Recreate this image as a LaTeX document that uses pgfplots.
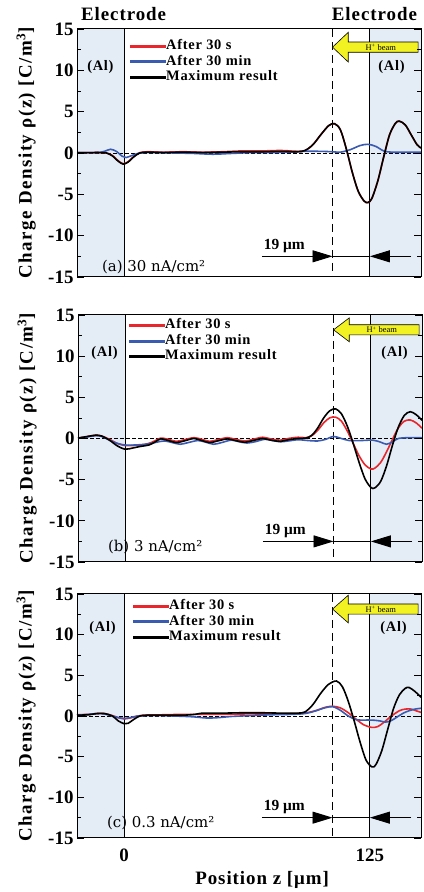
\documentclass[border=0pt]{standalone}
\usepackage{fontspec}
\setmainfont{Liberation Serif}
\newfontfamily\lsf[LetterSpace=5,BoldFont={Liberation Serif Bold}]{Liberation Serif}
\newfontfamily\lsfy[LetterSpace=8,BoldFont={Liberation Serif Bold}]{Liberation Serif}
\newfontfamily\dvs{DejaVu Serif}
\usepackage{pgfplots}
\pgfplotsset{compat=1.18}
\usetikzlibrary{arrows.meta}
\definecolor{shadecol}{HTML}{E4ECF6}
\definecolor{cred}{HTML}{E8262B}
\definecolor{cblue}{HTML}{3A5BB0}
\definecolor{beamyellow}{HTML}{F2F222}
\newcommand{\ticks}{\fontsize{19}{21}\selectfont\bfseries}
\newcommand{\lab}{\fontsize{19}{21}\selectfont\lsf\bfseries}
\newcommand{\ylab}{\fontsize{19}{21}\selectfont\lsfy\bfseries}
\newcommand{\leg}{\fontsize{14.5}{15}\selectfont\lsf\bfseries}
\newcommand{\sml}{\fontsize{15.5}{17}\selectfont\bfseries}
\newcommand{\plab}{\fontsize{15}{17}\selectfont\dvs}
\pgfplotsset{legend image code/.code={\fill[#1] (0bp,-1bp) rectangle (35bp,1bp);}}
\pgfplotsset{
 panel/.style={
  scale only axis, width=344bp,
  xmin=-24, xmax=151, ymin=-15, ymax=15,
  clip=false, axis on top,
  axis line style={line width=1bp},
  ytick={-15,-10,-5,0,5,10,15},
  yticklabels={-15,-10,-5,0,5,10,15},
  minor y tick num=1,
  tick align=inside,
  major tick length=7bp, minor tick length=4bp,
  every tick/.style={black, line width=0.8bp},
  y tick label style={font=\ticks},
  xtick=\empty,
  ylabel={Charge Density ρ(z) [C/m\textsuperscript{3}]},
  every axis y label/.style={at={(axis description cs:-0.148,0.5)}, rotate=90, anchor=center, font=\ylab},
  legend cell align=left,
  legend style={draw=none, fill=none, inner sep=0pt, font=\leg,
    nodes={inner sep=0.5bp, text height=10bp, text depth=3bp},
    row sep=1.5bp},
 },
 rl/.style={cred, line width=1.6bp, smooth},
 bl/.style={cblue, line width=1.6bp, smooth},
 kl/.style={black, line width=1.6bp, smooth},
}
\newcommand{\decor}[2]{%
  \fill[shadecol] (axis cs:-24,-15) rectangle (axis cs:0,15);
  \fill[shadecol] (axis cs:125,-15) rectangle (axis cs:151,15);
  \draw[line width=1bp] (axis cs:0,-15) -- (axis cs:0,15);
  \draw[line width=1bp] (axis cs:125,-15) -- (axis cs:125,15);
  \draw[line width=1bp, dash pattern=on 8bp off 5bp] (axis cs:106,15) -- (axis cs:106,-15);
  \draw[line width=0.9bp, dash pattern=on 3.5bp off 2.5bp] (axis cs:-24,0) -- (axis cs:151,0);
  \draw[line width=0.9bp, -{Triangle[length=20bp,width=12bp]}] (axis cs:70,-12.5) -- (axis cs:106,-12.5);
  \draw[line width=0.9bp] (axis cs:106,-12.5) -- (axis cs:125,-12.5);
  \draw[line width=0.9bp, -{Triangle[length=20bp,width=12bp]}] (axis cs:146,-12.5) -- (axis cs:125,-12.5);
  \node[font=\sml] at (axis cs:81.5,-11.2) {19 μm};
  \filldraw[fill=beamyellow, draw=black, line width=0.6bp]
    (axis cs:106,#1) -- (axis cs:114,#1+#2) -- (axis cs:114,#1+0.62) -- (axis cs:149.5,#1+0.62)
    -- (axis cs:149.5,#1-0.62) -- (axis cs:114,#1-0.62) -- (axis cs:114,#1-#2) -- cycle;
  \node[font=\fontsize{8.5}{9}\selectfont] at (axis cs:130.5,#1) {H\textsuperscript{+} beam};
  \addlegendimage{cred}\addlegendentry{After 30 s}
  \addlegendimage{cblue}\addlegendentry{After 30 min}
  \addlegendimage{black}\addlegendentry{Maximum result}
}
\begin{document}
\begin{tikzpicture}[x=1bp,y=1bp]
\path[use as bounding box] (0,0) rectangle (423,892);
% ---------------- panel (a)
\begin{axis}[panel, at={(77bp,615bp)}, anchor=south west, height=248bp,
  legend style={at={(axis cs:3,13.8)}, anchor=north west}]
\decor{12.8}{1.8}
\node[font=\lab] at (axis cs:-0.3,16.8) {Electrode};
\node[font=\lab] at (axis cs:127.3,16.8) {Electrode};
\node[font=\leg] at (axis cs:-12.1,10.4) {(Al)};
\node[font=\leg] at (axis cs:136,10.4) {(Al)};
\node[font=\plab, anchor=west] at (axis cs:-13,-13.85) {(a) 30 nA/cm²};
\addplot[rl, forget plot] coordinates {(-24,0.05) (-18,0.05) (-12,0.05) (-9,0) (-6,-0.3) (-3,-0.95) (-0.5,-1.3) (2,-1.05) (5,-0.4) (8,0.05) (12,0.15) (20,0.1) (30,0.15) (40,0.1) (50,0.15) (60,0.25) (70,0.25) (80,0.3) (88,0.2) (92,0.3) (96,1.0) (100,2.2) (104,3.3) (107,3.55) (110,2.8) (113,0.5) (116,-2.3) (119,-4.6) (122,-5.8) (124,-6.0) (126,-5.5) (129,-3.4) (132,-0.5) (135,2.2) (138,3.6) (140,3.85) (143,3.4) (146,2.2) (149,1.0) (151,0.6)};
\addplot[bl, forget plot] coordinates {(-24,0.05) (-14,0.05) (-10,0.2) (-7,0.45) (-4,0.2) (-1,-0.4) (1,-0.55) (4,-0.3) (8,0) (15,0.05) (25,0) (35,-0.05) (45,-0.15) (55,-0.05) (65,0.05) (75,0.05) (85,0.1) (92,0.2) (100,0.2) (106,0.15) (110,0.1) (115,0.4) (120,0.9) (124,1.05) (128,0.8) (132,0.25) (136,0.1) (145,0.1) (151,0.1)};
\addplot[kl, forget plot] coordinates {(-24,0.05) (-18,0.05) (-12,0.05) (-9,0) (-6,-0.35) (-3,-1.0) (-0.5,-1.35) (2,-1.1) (5,-0.45) (8,0) (12,0.1) (20,0.05) (30,0.1) (40,0.05) (50,0.1) (60,0.15) (70,0.15) (80,0.2) (88,0.15) (92,0.3) (96,1.0) (100,2.2) (104,3.3) (107,3.55) (110,2.8) (113,0.5) (116,-2.3) (119,-4.6) (122,-5.8) (124,-6.0) (126,-5.5) (129,-3.4) (132,-0.5) (135,2.2) (138,3.6) (140,3.85) (143,3.4) (146,2.2) (149,1.0) (151,0.6)};
\end{axis}
% ---------------- panel (b)
\begin{axis}[panel, at={(78bp,330bp)}, anchor=south west, height=247bp,
  legend style={at={(axis cs:2,14.6)}, anchor=north west}]
\decor{13.2}{1.45}
\node[font=\leg] at (axis cs:-10.5,10.4) {(Al)};
\node[font=\leg] at (axis cs:137,10.4) {(Al)};
\node[font=\plab, anchor=west] at (axis cs:-10.5,-13.2) {(b) 3 nA/cm²};
\addplot[rl, forget plot] coordinates {(-24,0.05) (-19,0.25) (-15,0.4) (-12,0.3) (-8,-0.1) (-4,-0.6) (0,-0.85) (4,-0.85) (8,-0.8) (12,-0.6) (15,-0.3) (18,0.05) (22,-0.1) (26,-0.35) (30,-0.15) (35,0.1) (39,-0.1) (43,-0.35) (47,-0.15) (52,0.1) (56,-0.1) (61,-0.3) (65,-0.1) (70,0.15) (74,-0.05) (79,-0.2) (83,0) (88,0.15) (92,0.1) (95,0.35) (98,1.0) (101,1.9) (104,2.5) (107,2.6) (110,2.1) (113,0.9) (116,-0.6) (119,-2.1) (122,-3.2) (125,-3.7) (127,-3.6) (130,-2.9) (133,-1.6) (136,-0.1) (139,1.3) (142,2.1) (145,2.25) (148,1.9) (151,1.25)};
\addplot[bl, forget plot] coordinates {(-24,0.05) (-19,0.2) (-15,0.35) (-12,0.25) (-8,-0.2) (-4,-0.6) (0,-0.8) (4,-0.8) (8,-0.75) (12,-0.65) (16,-0.45) (20,-0.3) (24,-0.5) (28,-0.7) (32,-0.5) (37,-0.25) (41,-0.45) (45,-0.7) (49,-0.5) (54,-0.2) (58,-0.4) (62,-0.55) (66,-0.4) (71,-0.1) (75,-0.25) (79,-0.4) (83,-0.3) (88,-0.15) (93,-0.25) (98,-0.3) (102,-0.1) (106,0.25) (110,0.0) (114,-0.25) (120,-0.25) (126,-0.2) (130,-0.45) (133,-0.7) (136,-0.4) (139,0) (144,0.1) (151,0.1)};
\addplot[kl, forget plot] coordinates {(-24,0.05) (-19,0.25) (-15,0.4) (-12,0.3) (-8,-0.2) (-4,-0.9) (0,-1.3) (4,-1.15) (8,-0.95) (12,-0.8) (15,-0.45) (18,-0.05) (22,-0.25) (26,-0.5) (30,-0.3) (35,0) (39,-0.25) (43,-0.5) (47,-0.3) (52,-0.05) (56,-0.25) (61,-0.45) (65,-0.25) (70,0) (74,-0.2) (79,-0.35) (83,-0.15) (88,0) (92,0.05) (95,0.4) (98,1.3) (101,2.5) (104,3.35) (107,3.6) (110,3.0) (113,1.5) (116,-0.6) (119,-2.9) (122,-4.9) (125,-5.95) (127,-6.0) (130,-5.2) (133,-3.3) (136,-0.8) (139,1.4) (142,2.8) (145,3.25) (148,2.9) (151,2.2)};
\end{axis}
% ---------------- panel (c)
\begin{axis}[panel, at={(77bp,54bp)}, anchor=south west, height=244bp,
  legend style={at={(axis cs:4.5,14.4)}, anchor=north west},
  xtick={0,125}, xticklabels={0,125}, xtick style={draw=none},
  x tick label style={font=\ticks, yshift=-7bp},
  xlabel={Position z [μm]},
  every axis x label/.style={at={(axis description cs:0.538,-0.172)}, anchor=center, font=\lab}]
\decor{13.15}{1.7}
\node[font=\leg] at (axis cs:-11,10.8) {(Al)};
\node[font=\leg] at (axis cs:137,10.8) {(Al)};
\node[font=\plab, anchor=west] at (axis cs:-10.5,-13.2) {(c) 0.3 nA/cm²};
\addplot[rl, forget plot] coordinates {(-24,0.15) (-18,0.2) (-14,0.3) (-10,0.3) (-6,0.05) (-3,-0.2) (0,-0.35) (3,-0.25) (6,-0.05) (10,0.1) (20,0.15) (30,0.2) (40,0.2) (50,0.2) (60,0.25) (70,0.25) (80,0.25) (88,0.3) (93,0.4) (98,0.7) (102,1.05) (106,1.2) (110,1.0) (114,0.4) (118,-0.4) (122,-1.1) (126,-1.4) (129,-1.3) (132,-0.8) (136,0.0) (140,0.65) (143,0.85) (146,0.85) (149,0.6) (151,0.45)};
\addplot[bl, forget plot] coordinates {(-24,0.1) (-18,0.2) (-14,0.3) (-10,0.25) (-6,0.0) (-3,-0.2) (0,-0.3) (3,-0.2) (7,0) (15,0.05) (25,0.0) (35,-0.1) (42,-0.25) (48,-0.2) (55,-0.05) (65,0.05) (75,0.15) (85,0.2) (92,0.3) (97,0.6) (102,1.0) (106,1.15) (110,0.7) (114,0.0) (118,-0.45) (122,-0.5) (126,-0.5) (130,-0.6) (133,-0.75) (136,-0.55) (139,-0.1) (142,0.35) (145,0.65) (148,0.85) (151,0.95)};
\addplot[kl, forget plot] coordinates {(-24,0.1) (-18,0.15) (-14,0.3) (-10,0.3) (-6,0.0) (-3,-0.6) (0,-0.95) (2,-0.9) (5,-0.4) (8,0) (12,0.1) (20,0.1) (30,0.1) (36,0.2) (40,0.35) (50,0.35) (60,0.4) (70,0.4) (80,0.35) (88,0.35) (92,0.5) (96,1.4) (100,2.8) (104,3.9) (108,4.3) (111,3.6) (114,1.8) (117,-0.6) (120,-3.2) (123,-5.4) (126,-6.25) (128,-6.0) (131,-4.3) (134,-1.7) (137,0.9) (140,2.6) (143,3.4) (145,3.5) (148,3.0) (151,2.3)};
\end{axis}
\end{tikzpicture}
\end{document}
